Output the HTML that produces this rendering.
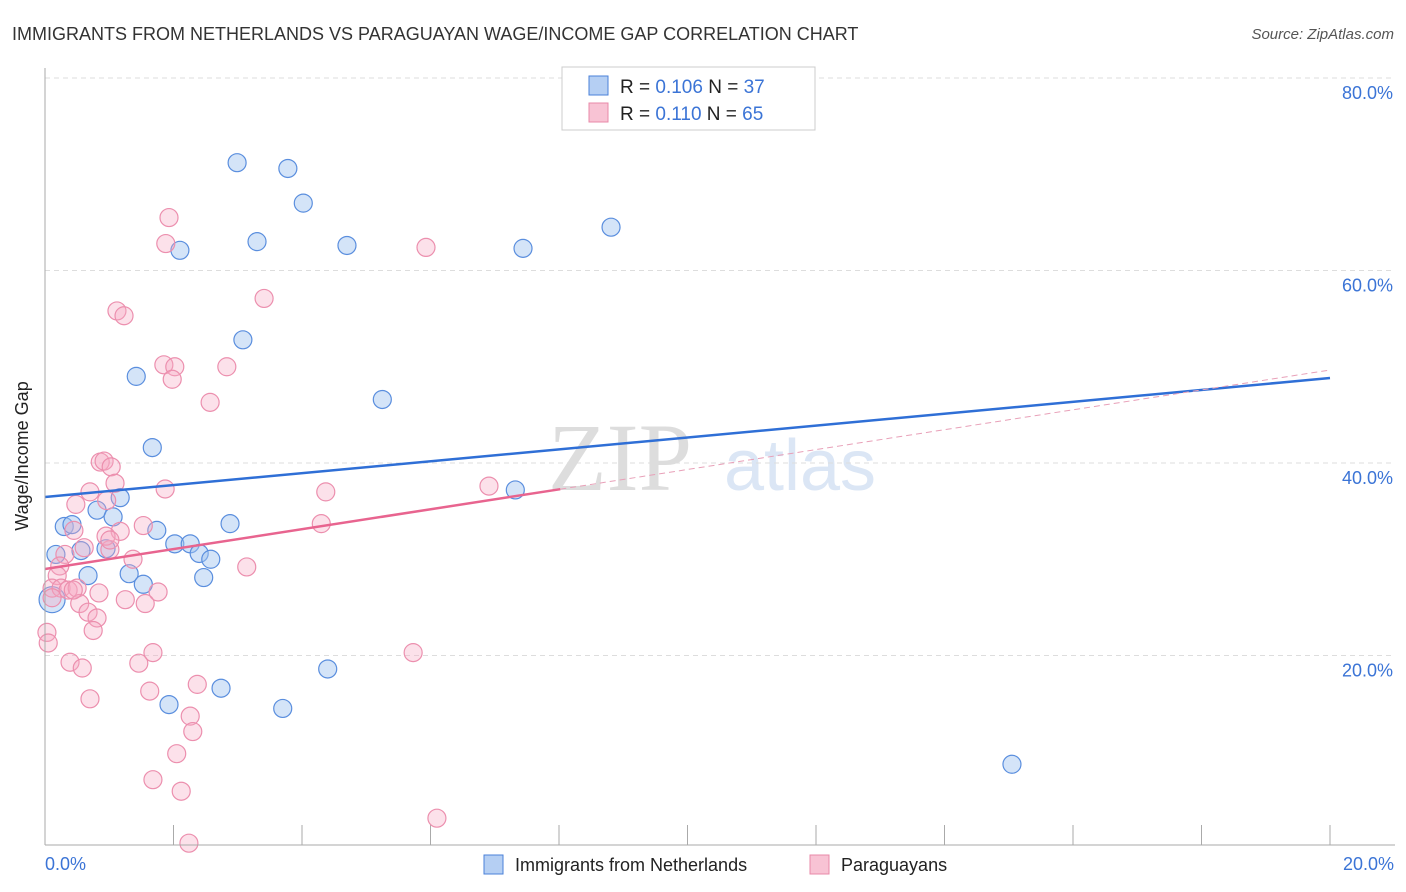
<!DOCTYPE html>
<html><head><meta charset="utf-8"><style>
body{margin:0;background:#fff;font-family:"Liberation Sans",sans-serif;}
#c{position:relative;width:1406px;height:892px;overflow:hidden}
</style></head><body>
<div id="c">
<svg id="s" width="1406" height="892" xmlns="http://www.w3.org/2000/svg">
<text x="12" y="40" font-size="18" fill="#333">IMMIGRANTS FROM NETHERLANDS VS PARAGUAYAN WAGE/INCOME GAP CORRELATION CHART</text>
<text x="1394" y="39" font-size="15" fill="#555" text-anchor="end" font-style="italic">Source: ZipAtlas.com</text>
<text x="620" y="490" font-size="96" fill="#ddd" font-family="Liberation Serif,serif" text-anchor="middle">ZIP</text>
<text x="800" y="490" font-size="72" fill="#dbe6f5" text-anchor="middle">atlas</text>
<g id="grid"></g><g id="pts"></g><g id="lines"></g>
<line x1="45" y1="68" x2="45" y2="845" stroke="#aaa"/>
<line x1="45" y1="845" x2="1395" y2="845" stroke="#aaa"/>
<text x="28" y="456" font-size="18" fill="#222" text-anchor="middle" transform="rotate(-90 28 456)">Wage/Income Gap</text>
<text x="45" y="870" font-size="18" fill="#3b74d6">0.0%</text>
<text x="1394" y="870" font-size="18" fill="#3b74d6" text-anchor="end">20.0%</text>
<g>
<rect x="562" y="67" width="253" height="63" fill="#fff" stroke="#ccc"/>
<rect x="589" y="76" width="19" height="19" fill="#b5cff3" stroke="#4a80d8"/>
<rect x="589" y="103" width="19" height="19" fill="#f8c3d4" stroke="#e889a8"/>
<text x="620" y="93" font-size="19" fill="#222">R = <tspan fill="#3b74d6">0.106</tspan>   N = <tspan fill="#3b74d6">37</tspan></text>
<text x="620" y="120" font-size="19" fill="#222">R =  <tspan fill="#3b74d6">0.110</tspan>   N = <tspan fill="#3b74d6">65</tspan></text>
</g>
<g>
<rect x="484" y="855" width="19" height="19" fill="#b5cff3" stroke="#4a80d8"/>
<text x="515" y="871" font-size="18" fill="#222">Immigrants from Netherlands</text>
<rect x="810" y="855" width="19" height="19" fill="#f8c3d4" stroke="#e889a8"/>
<text x="841" y="871" font-size="18" fill="#222">Paraguayans</text>
</g>
</svg>
</div>
<script>
const yTicks=[20,40,60,80];
const yTickLabels=["20.0%","40.0%","60.0%","80.0%"];
const xTicks=[0,2,4,6,8,10,12,14,16,18,20];
const blueX=[2.99,3.78,4.02,3.30,4.70,7.44,8.81,2.10,3.08,1.42,5.25,1.67,7.32,1.17,0.81,1.06,0.30,0.42,2.88,1.74,2.02,2.26,2.40,2.58,0.17,0.56,0.95,1.31,0.67,1.53,2.47,0.11,4.40,2.74,1.93,3.70,15.05];
const blueY=[71.2,70.6,67.0,63.0,62.6,62.3,64.5,62.1,52.8,49.0,46.6,41.6,37.2,36.4,35.1,34.4,33.4,33.6,33.7,33.0,31.6,31.6,30.6,30.0,30.5,30.9,31.1,28.5,28.3,27.4,28.1,25.8,18.6,16.6,14.9,14.5,8.7];
const pinkX=[1.93,1.88,5.93,3.41,1.12,1.23,1.85,2.02,2.83,1.98,2.57,0.86,0.92,1.03,1.09,1.87,4.37,6.91,0.70,0.48,0.96,1.53,4.30,0.45,1.17,0.61,1.01,0.31,1.37,3.14,0.23,0.19,0.11,0.25,0.36,0.50,0.84,1.25,1.76,1.56,0.54,0.67,0.81,0.75,0.03,0.05,1.68,5.73,0.39,0.58,1.46,0.70,1.63,2.37,2.26,2.30,2.05,1.68,2.12,6.10,2.24,0.11,0.95,1.01,0.44];
const pinkY=[65.5,62.8,62.4,57.1,55.8,55.3,50.2,50.0,50.0,48.7,46.3,40.1,40.2,39.6,37.9,37.3,37.0,37.6,37.0,35.7,36.1,33.5,33.7,33.0,32.9,31.2,31.0,30.5,30.0,29.2,29.3,28.3,27.0,27.0,26.8,27.0,26.5,25.8,26.6,25.4,25.4,24.5,23.9,22.6,22.4,21.3,20.3,20.3,19.3,18.7,19.2,15.5,16.3,17.0,13.7,12.1,9.8,7.1,5.9,3.1,0.5,26.0,32.4,32.0,26.8];
const blueTrend=[36.47,48.83];
const pinkTrend=[28.99,49.66];
const pinkSolidEnd=8.02;
const NS="http://www.w3.org/2000/svg";
const X=v=>45+v*64.25, Y=v=>848-v*9.625;
function mk(t,a,p){const e=document.createElementNS(NS,t);for(const k in a)e.setAttribute(k,a[k]);p.appendChild(e);return e;}
const grid=document.getElementById('grid'),pts=document.getElementById('pts'),lines=document.getElementById('lines');
yTicks.forEach((t,i)=>{
 const l=mk('line',{x1:45,x2:1395,y1:Y(t),y2:Y(t),stroke:'#ddd','stroke-dasharray':'5,4'},grid);
 
 
 const tx=mk('text',{x:1393,y:Y(t)+21,'font-size':18,fill:'#3b74d6','text-anchor':'end'},grid);
 tx.textContent=yTickLabels[i];
 
 
});
xTicks.forEach(t=>{
 const l=mk('line',{x1:X(t),x2:X(t),y1:825,y2:845,stroke:'#aaa'},grid);
 
 
});
blueX.forEach((v,i)=>{
 const c=mk('circle',{cx:X(v),cy:Y(blueY[i]),r:i==31?13:9,fill:'rgba(160,195,240,0.45)',stroke:'#5a8ede','stroke-width':1.2},pts);
 
 
});
pinkX.forEach((v,i)=>{
 const c=mk('circle',{cx:X(v),cy:Y(pinkY[i]),r:9,fill:'rgba(245,170,195,0.35)',stroke:'#ec8fae','stroke-width':1.2},pts);
 
 
});
const bl=mk('line',{x1:X(0),y1:Y(blueTrend[0]),x2:X(20),y2:Y(blueTrend[1]),stroke:'#2f6fd6','stroke-width':2.5},lines);


const py=x=>pinkTrend[0]+(pinkTrend[1]-pinkTrend[0])*x/20;
const pl=mk('line',{x1:X(0),y1:Y(py(0)),x2:X(pinkSolidEnd),y2:Y(py(pinkSolidEnd)),stroke:'#e8648f','stroke-width':2.5},lines);


const pd=mk('line',{x1:X(pinkSolidEnd),y1:Y(py(pinkSolidEnd)),x2:X(20),y2:Y(py(20)),stroke:'#e8a0b8','stroke-width':1,'stroke-dasharray':'6,4'},lines);


</script>
</body></html>
